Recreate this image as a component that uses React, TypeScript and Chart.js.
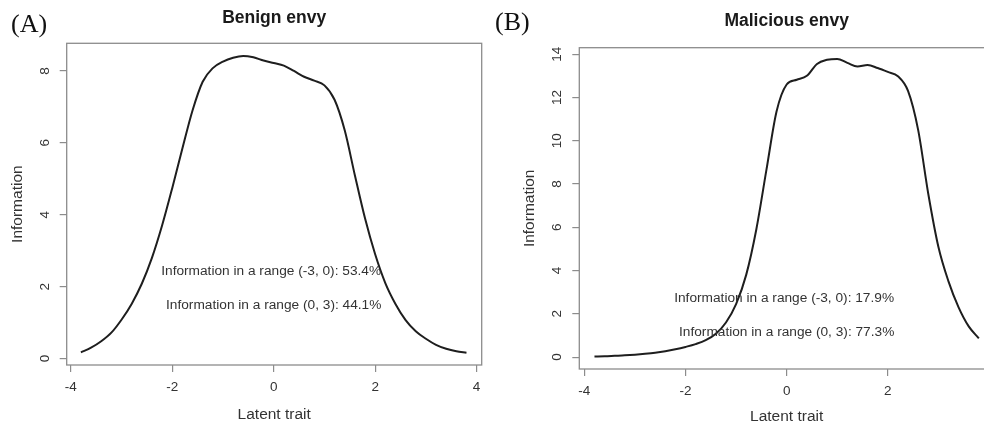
import React, { useEffect, useRef } from "react";
import { Chart, registerables } from "chart.js";

Chart.register(...registerables);

// ---------- data ----------
const thetaA = [-3.8, -3.6, -3.4, -3.2, -3.0, -2.8, -2.6, -2.4, -2.2, -2.0, -1.8, -1.6, -1.4, -1.2, -1.0, -0.8, -0.6, -0.4, -0.2, 0, 0.2, 0.4, 0.6, 0.8, 1.0, 1.2, 1.4, 1.6, 1.8, 2.0, 2.2, 2.4, 2.6, 2.8, 3.0, 3.2, 3.4, 3.6, 3.8];
const infoA = [0.17, 0.3, 0.48, 0.72, 1.08, 1.52, 2.08, 2.8, 3.7, 4.74, 5.84, 6.9, 7.7, 8.08, 8.26, 8.37, 8.42, 8.38, 8.29, 8.22, 8.15, 8.0, 7.84, 7.73, 7.6, 7.2, 6.35, 5.1, 3.9, 2.9, 2.1, 1.52, 1.07, 0.76, 0.55, 0.38, 0.27, 0.2, 0.16];

const thetaB = [-3.8, -3.6, -3.4, -3.2, -3.0, -2.8, -2.6, -2.4, -2.2, -2.0, -1.8, -1.6, -1.4, -1.2, -1.0, -0.8, -0.6, -0.4, -0.2, 0, 0.2, 0.4, 0.6, 0.8, 1.0, 1.2, 1.4, 1.6, 1.8, 2.0, 2.2, 2.4, 2.6, 2.8, 3.0, 3.2, 3.4, 3.6, 3.8];
const infoB = [0.03, 0.04, 0.06, 0.08, 0.11, 0.15, 0.2, 0.27, 0.36, 0.47, 0.6, 0.78, 1.08, 1.6, 2.45, 3.8, 5.9, 8.65, 11.35, 12.6, 12.82, 13.0, 13.55, 13.74, 13.78, 13.6, 13.43, 13.5, 13.36, 13.18, 12.98, 12.3, 10.5, 7.55, 5.1, 3.5, 2.3, 1.42, 0.87];

const xTicks = [-4, -2, 0, 2, 4];
const yTicksA = [0, 2, 4, 6, 8];
const yTicksB = [0, 2, 4, 6, 8, 10, 12, 14];

const titleA = "Benign envy";
const titleB = "Malicious envy";
const panelA = "(A)";
const panelB = "(B)";
const xLabel = "Latent trait";
const yLabel = "Information";

const notesA = ["Information in a range (-3, 0): 53.4%", "Information in a range (0, 3): 44.1%"];
const noteXA = [-0.05, 0];
const noteYA = [2.43, 1.48];
const notesB = ["Information in a range (-3, 0): 17.9%", "Information in a range (0, 3): 77.3%"];
const noteXB = [-0.05, 0];
const noteYB = [2.73, 1.16];

// ---------- chart builder ----------
const FONT = "'Liberation Sans', Arial, sans-serif";

type PanelCfg = {
  xs: number[];
  ys: number[];
  yTicks: number[];
  title: string;
  notes: string[];
  noteX: number[];
  noteY: number[];
  xMin: number;
  xMax: number;
  yMin: number;
  yMax: number;
  yAxisWidth: number;
  xAxisHeight: number;
  padRight: number;
  titlePadTop: number;
  titlePadBottom: number;
  yTickPad: number;
  yTitlePad: number;
  xTitlePad: number;
};

function makeChart(canvas: HTMLCanvasElement, p: PanelCfg) {
  const boxPlugin = {
    id: "rbox",
    afterDraw(chart: any) {
      const { ctx, chartArea } = chart;
      ctx.save();
      ctx.strokeStyle = "#8c8c8c";
      ctx.lineWidth = 1.3;
      ctx.strokeRect(chartArea.left, chartArea.top, chartArea.right - chartArea.left, chartArea.bottom - chartArea.top);
      ctx.restore();
    },
  };
  const notesPlugin = {
    id: "notes",
    afterDatasetsDraw(chart: any) {
      const { ctx } = chart;
      const xs = chart.scales.x;
      const ys = chart.scales.y;
      ctx.save();
      ctx.font = `13.7px ${FONT}`;
      ctx.fillStyle = "#333";
      ctx.textAlign = "center";
      ctx.textBaseline = "middle";
      p.notes.forEach((t, i) => {
        ctx.fillText(t, xs.getPixelForValue(p.noteX[i]), ys.getPixelForValue(p.noteY[i]));
      });
      ctx.restore();
    },
  };

  const gridOpts = {
    display: true,
    drawOnChartArea: false,
    drawTicks: true,
    tickLength: 7,
    color: "#8c8c8c",
    lineWidth: 1.2,
  };

  return new Chart(canvas, {
    type: "line",
    data: {
      datasets: [
        {
          data: p.xs.map((x, i) => ({ x, y: p.ys[i] })),
          borderColor: "#1e1e1e",
          borderWidth: 2,
          pointRadius: 0,
          fill: false,
          cubicInterpolationMode: "monotone",
        },
      ],
    },
    options: {
      animation: false,
      responsive: false,
      devicePixelRatio: 1,
      events: [],
      layout: { padding: { left: 0, right: p.padRight, top: 0, bottom: 0 } },
      plugins: {
        legend: { display: false },
        tooltip: { enabled: false },
        title: {
          display: true,
          text: p.title,
          fullSize: false,
          color: "#1a1a1a",
          font: { family: FONT, size: 17.5, weight: "bold" },
          padding: { top: p.titlePadTop, bottom: p.titlePadBottom },
        },
      },
      scales: {
        x: {
          type: "linear",
          min: p.xMin,
          max: p.xMax,
          afterBuildTicks: (s: any) => {
            s.ticks = xTicks.map((v) => ({ value: v }));
          },
          afterFit: (s: any) => {
            s.height = p.xAxisHeight;
            s.paddingLeft = 0;
            s.paddingRight = 0;
          },
          grid: gridOpts,
          border: { display: false },
          ticks: {
            minRotation: 0,
            maxRotation: 0,
            padding: 7,
            color: "#333",
            font: { family: FONT, size: 13.5 },
          },
          title: {
            display: true,
            text: xLabel,
            color: "#333",
            font: { family: FONT, size: 15.5 },
            padding: { top: 0, bottom: p.xTitlePad },
          },
        },
        y: {
          type: "linear",
          min: p.yMin,
          max: p.yMax,
          afterBuildTicks: (s: any) => {
            s.ticks = p.yTicks.map((v) => ({ value: v }));
          },
          afterFit: (s: any) => {
            s.width = p.yAxisWidth;
            s.paddingTop = 0;
            s.paddingBottom = 0;
          },
          grid: gridOpts,
          border: { display: false },
          ticks: {
            minRotation: 90,
            maxRotation: 90,
            crossAlign: "center",
            padding: p.yTickPad,
            color: "#333",
            font: { family: FONT, size: 13.5 },
          },
          title: {
            display: true,
            text: yLabel,
            color: "#333",
            font: { family: FONT, size: 15.5 },
            padding: { top: p.yTitlePad, bottom: 0 },
          },
        },
      },
    },
    plugins: [boxPlugin, notesPlugin],
  } as any);
}

const cfgA: PanelCfg = {
  xs: thetaA,
  ys: infoA,
  yTicks: yTicksA,
  title: titleA,
  notes: notesA,
  noteX: noteXA,
  noteY: noteYA,
  xMin: -4.08,
  xMax: 4.1,
  yMin: -0.18,
  yMax: 8.77,
  yAxisWidth: 66.7,
  xAxisHeight: 62,
  padRight: 10.3,
  titlePadTop: 7.5,
  titlePadBottom: 14.8,
  yTickPad: 11,
  yTitlePad: 8,
  xTitlePad: 2.7,
};

const cfgB: PanelCfg = {
  xs: thetaB,
  ys: infoB,
  yTicks: yTicksB,
  title: titleB,
  notes: notesB,
  noteX: noteXB,
  noteY: noteYB,
  xMin: -4.1,
  xMax: 4.1,
  yMin: -0.55,
  yMax: 14.3,
  yAxisWidth: 87.3,
  xAxisHeight: 58,
  padRight: 18,
  titlePadTop: 10.5,
  titlePadBottom: 16.2,
  yTickPad: 7.8,
  yTitlePad: 28.4,
  xTitlePad: 0.7,
};

function Panel({ cfg, left, width }: { cfg: PanelCfg; left: number; width: number }) {
  const ref = useRef<HTMLCanvasElement | null>(null);
  useEffect(() => {
    if (!ref.current) return;
    const chart = makeChart(ref.current, cfg);
    return () => chart.destroy();
  }, [cfg]);
  return (
    <canvas
      ref={ref}
      width={width}
      height={427}
      style={{ position: "absolute", left, top: 0, width, height: 427 }}
    />
  );
}

const panelLabelStyle: React.CSSProperties = {
  position: "absolute",
  fontFamily: "'Liberation Serif', 'Times New Roman', serif",
  fontSize: 26,
  lineHeight: "26px",
  color: "#111",
  whiteSpace: "nowrap",
};

export default function App() {
  return (
    <div
      style={{
        position: "fixed",
        left: 0,
        top: 0,
        width: 984,
        height: 427,
        overflow: "hidden",
        background: "#fff",
      }}
    >
      <Panel cfg={cfgA} left={0} width={492} />
      <Panel cfg={cfgB} left={492} width={520} />
      <div style={{ ...panelLabelStyle, left: 11, top: 10.5 }}>{panelA}</div>
      <div style={{ ...panelLabelStyle, left: 495, top: 8.9 }}>{panelB}</div>
    </div>
  );
}
